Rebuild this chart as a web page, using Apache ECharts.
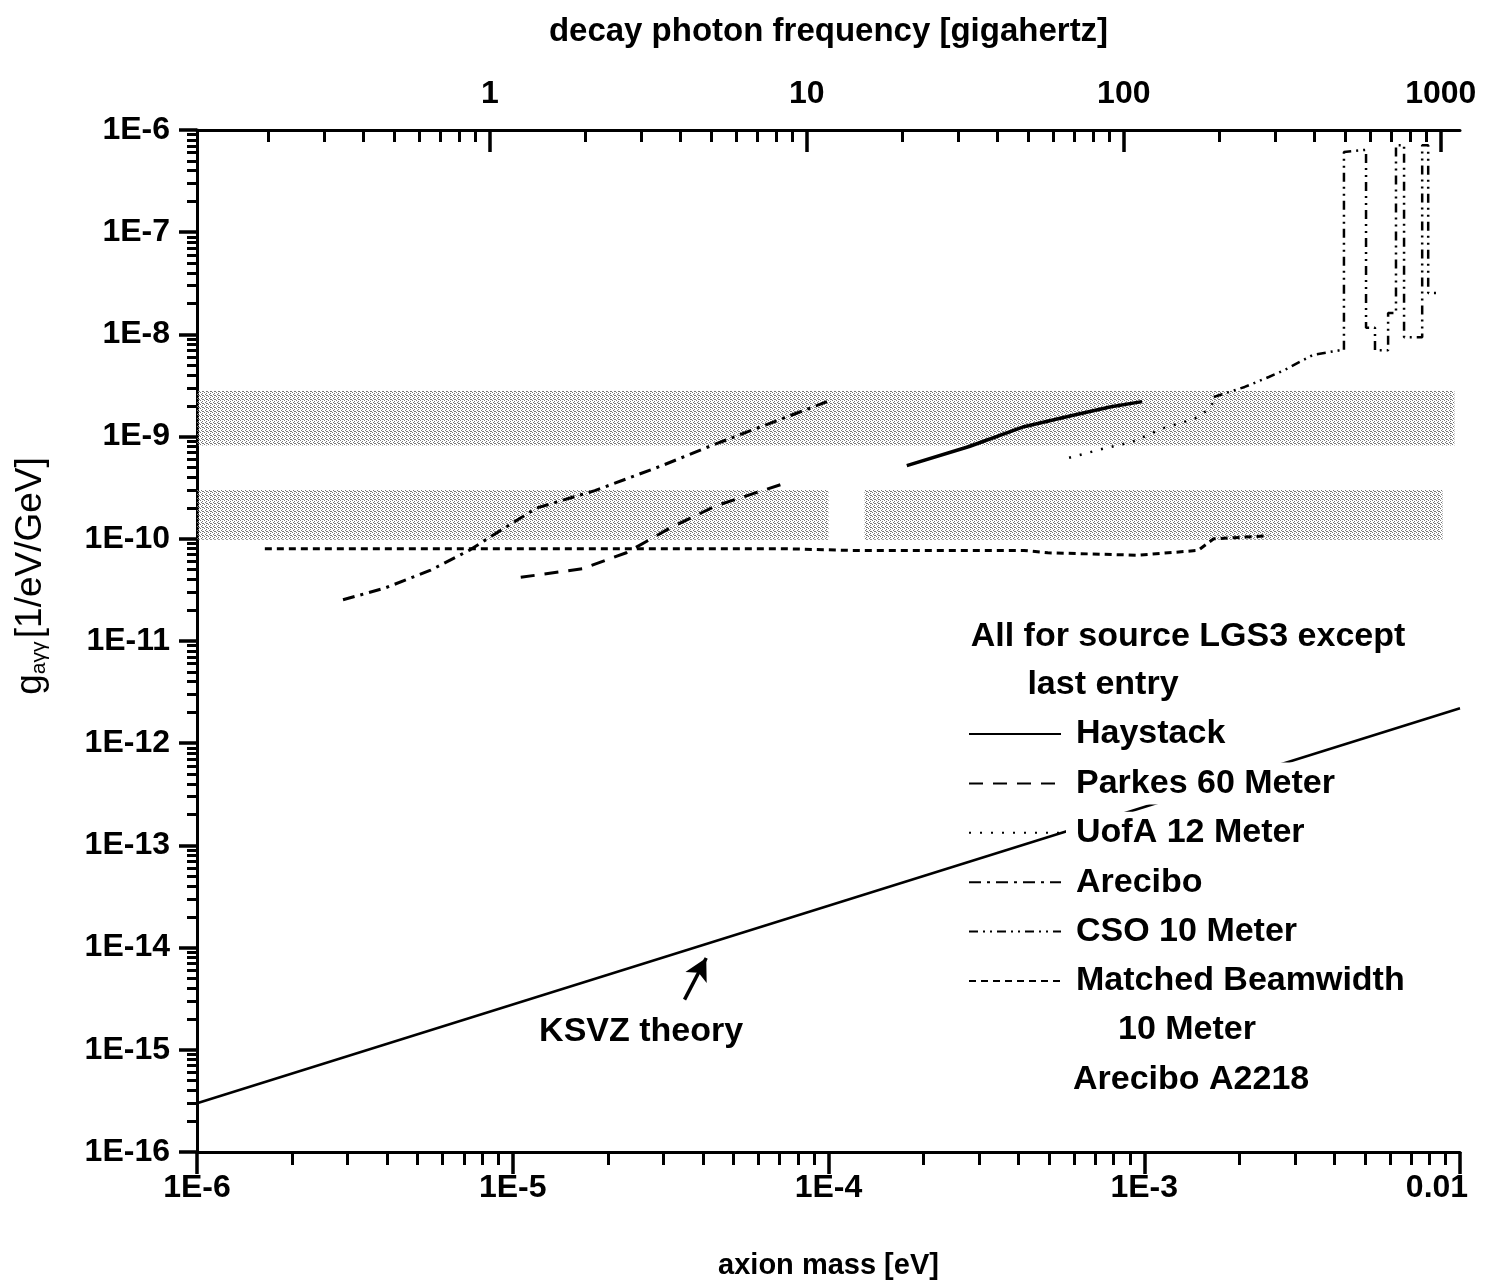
<!DOCTYPE html>
<html>
<head>
<meta charset="utf-8">
<script src="https://cdn.jsdelivr.net/npm/echarts@6/dist/echarts.min.js"></script>
<style>
  html, body { margin: 0; padding: 0; background: #fff; }
  #chart { width: 1487px; height: 1287px; }
</style>
</head>
<body>
<div id="chart"></div>
<script>
  // axion mass [eV] on x, coupling g_aγγ [1/GeV] on y
  const massRange = [1e-6, 1e-2];
  const couplingRange = [1e-16, 1e-6];
  const freqRange = [0.1192, 1150]; // decay photon frequency, GHz (top axis)

  const massTicks = [1e-6, 1e-5, 1e-4, 1e-3, 1e-2];
  const couplingTicks = [1e-16, 1e-15, 1e-14, 1e-13, 1e-12, 1e-11, 1e-10, 1e-9, 1e-8, 1e-7, 1e-6];
  const freqTicks = [1, 10, 100, 1000];

  const ksvz = [[1e-6, 3.0e-16], [1e-2, 2.2e-12]];
  const haystack = [[1.77e-4, 5.2e-10], [2.79e-4, 8.0e-10], [4.16e-4, 1.25e-9], [5.86e-4, 1.6e-9], [7.85e-4, 1.96e-9], [9.84e-4, 2.2e-9]];
  const parkes = [[1.06e-5, 4.2e-11], [1.66e-5, 5.1e-11], [2.29e-5, 7.3e-11], [3.17e-5, 1.29e-10], [4.4e-5, 2.1e-10], [7.2e-5, 3.46e-10]];
  const uofa = [[5.78e-4, 6.2e-10], [7.4e-4, 7.6e-10], [9.2e-4, 8.9e-10], [1.14e-3, 1.2e-9], [1.44e-3, 1.49e-9], [1.58e-3, 1.8e-9], [1.71e-3, 2.44e-9]];
  const arecibo = [[2.9e-6, 2.53e-11], [3.94e-6, 3.3e-11], [5.47e-6, 4.9e-11], [7.33e-6, 7.8e-11], [8.6e-6, 1.07e-10], [1.19e-5, 2.0e-10], [1.82e-5, 2.96e-10], [2.97e-5, 5.2e-10], [4.4e-5, 8.5e-10], [9.9e-5, 2.2e-9]];
  const cso = [
    [1.66e-3, 2.44e-9], [2.08e-3, 3.06e-9], [2.48e-3, 3.83e-9], [2.79e-3, 4.5e-9], [3.42e-3, 6.3e-9],
    [4.17e-3, 7.0e-9], [4.29e-3, 7.0e-9], [4.29e-3, 6.1e-7], [5.04e-3, 6.4e-7], [5.04e-3, 1.16e-8],
    [5.38e-3, 1.16e-8], [5.38e-3, 7.0e-9], [5.92e-3, 7.0e-9], [5.92e-3, 1.62e-8], [6.27e-3, 1.62e-8],
    [6.27e-3, 7.1e-7], [6.65e-3, 7.1e-7], [6.65e-3, 9.4e-9], [7.59e-3, 9.4e-9], [7.59e-3, 7.1e-7],
    [7.93e-3, 7.1e-7], [7.93e-3, 2.54e-8], [8.51e-3, 2.54e-8]
  ];
  const matched = [[1.64e-6, 8.0e-11], [7.2e-5, 8.0e-11], [1.17e-4, 7.7e-11], [4.16e-4, 7.7e-11], [4.95e-4, 7.3e-11], [9.55e-4, 6.9e-11], [1.48e-3, 7.7e-11], [1.66e-3, 1.0e-10], [2.48e-3, 1.07e-10]];

  // shaded (stippled) regions: [mass from, mass to, g low, g high]
  const bands = [
    [1e-6, 9.6e-3, 8.2e-10, 2.8e-9],
    [1e-6, 1.0e-4, 9.8e-11, 3.0e-10],
    [1.3e-4, 8.8e-3, 9.8e-11, 3.0e-10]
  ];

  const ksvzArrow = [[3.5e-5, 3.1e-15], [4.1e-5, 7.9e-15]];
  const ksvzLabelAt = [2.55e-5, 1.5e-15];

  const FONT = '"Liberation Sans", Arial, Helvetica, sans-serif';
  const INK = '#000';
  const LEGEND_SIZE = 34;

  function minorsOf(range) {
    const out = [];
    const lo = Math.floor(Math.log10(range[0]));
    const hi = Math.ceil(Math.log10(range[1]));
    for (let e = lo; e <= hi; e++) {
      for (let k = 2; k <= 9; k++) {
        const v = k * Math.pow(10, e);
        if (v > range[0] && v < range[1]) out.push(v);
      }
    }
    return out;
  }
  const expLabel = (v) => '1E' + Math.round(Math.log10(v));

  // stipple texture for the shaded bands
  const stipple = document.createElement('canvas');
  stipple.width = 4; stipple.height = 4;
  const sctx = stipple.getContext('2d');
  sctx.fillStyle = '#777';
  [[0, 0], [2, 1], [1, 2], [3, 3], [2, 3]].forEach(p => sctx.fillRect(p[0], p[1], 1, 1));

  const chart = echarts.init(document.getElementById('chart'));

  const tickAxis = (extra) => Object.assign({
    type: 'log',
    splitLine: { show: false },
    axisLine: { show: false },
    axisLabel: { show: false },
  }, extra);

  const lineSeries = (name, data, type, width) => ({
    name: name,
    type: 'line',
    data: data,
    symbol: 'none',
    showSymbol: false,
    z: 3,
    color: '#000',
    lineStyle: { color: '#000', width: width || 3, type: type }
  });

  const txt = (text, x, y, align) => ({
    type: 'text', x: x, y: y, z: 10,
    style: { text: text, fontSize: LEGEND_SIZE, fontWeight: 'bold', fontFamily: FONT, fill: INK, align: align, verticalAlign: 'middle' }
  });

  const labelStyle = { fontSize: 32, fontWeight: 'bold', color: INK, fontFamily: FONT };

  chart.setOption({
    animation: false,
    grid: { left: 197, right: 27, top: 130, bottom: 135, outerBoundsMode: 'none', containLabel: false },
    xAxis: [
      {
        type: 'log', position: 'bottom', min: massRange[0], max: massRange[1],
        name: 'axion mass [eV]', nameLocation: 'middle', nameGap: 99,
        nameTextStyle: { fontSize: 29, fontWeight: 'bold', color: INK, fontFamily: FONT },
        axisLine: { lineStyle: { color: '#000', width: 3 } },
        axisTick: { length: 22, lineStyle: { color: '#000', width: 3.5 }, customValues: massTicks },
        axisLabel: Object.assign({
          customValues: massTicks, margin: 20,
          formatter: (v) => (Math.round(Math.log10(v)) === -2 ? '{r|0.01}' : expLabel(v)),
          rich: { r: { fontSize: 32, fontWeight: 'bold', color: INK, fontFamily: FONT, padding: [0, 46, 0, 0] } }
        }, labelStyle),
        splitLine: { show: false }
      },
      tickAxis({
        position: 'bottom', min: massRange[0], max: massRange[1],
        axisTick: { length: 13, lineStyle: { color: '#000', width: 3 }, customValues: minorsOf(massRange) }
      }),
      {
        type: 'log', position: 'top', min: freqRange[0], max: freqRange[1],
        name: 'decay photon frequency [gigahertz]', nameLocation: 'middle', nameGap: 82,
        nameTextStyle: { fontSize: 33, fontWeight: 'bold', color: INK, fontFamily: FONT },
        axisLine: { lineStyle: { color: '#000', width: 3 } },
        axisTick: { inside: true, length: 22, lineStyle: { color: '#000', width: 3.5 }, customValues: freqTicks },
        axisLabel: Object.assign({
          customValues: freqTicks, margin: 20,
          formatter: (v) => String(Math.round(v))
        }, labelStyle),
        splitLine: { show: false }
      },
      tickAxis({
        position: 'top', min: freqRange[0], max: freqRange[1],
        axisTick: { inside: true, length: 12, lineStyle: { color: '#000', width: 3 }, customValues: minorsOf(freqRange) }
      })
    ],
    yAxis: [
      {
        type: 'log', position: 'left', min: couplingRange[0], max: couplingRange[1],
        axisLine: { lineStyle: { color: '#000', width: 3 } },
        axisTick: { length: 18, lineStyle: { color: '#000', width: 3.5 }, customValues: couplingTicks },
        axisLabel: Object.assign({ customValues: couplingTicks, margin: 27, formatter: expLabel }, labelStyle),
        splitLine: { show: false }
      },
      tickAxis({
        position: 'left', min: couplingRange[0], max: couplingRange[1],
        axisTick: { length: 10, lineStyle: { color: '#000', width: 3 }, customValues: minorsOf(couplingRange) }
      })
    ],
    legend: {
      data: ['Haystack', 'Parkes 60 Meter', 'UofA 12 Meter', 'Arecibo', 'CSO 10 Meter', 'Matched Beamwidth 10 Meter'],
      orient: 'vertical', left: 968, top: 713, padding: 0, itemGap: 49.4 - (LEGEND_SIZE + 8),
      itemWidth: 92, itemHeight: 14, selectedMode: false,
      itemStyle: { opacity: 0 },
      formatter: (n) => (n === 'Matched Beamwidth 10 Meter' ? 'Matched Beamwidth' : n),
      textStyle: {
        fontSize: LEGEND_SIZE, fontWeight: 'bold', color: INK, fontFamily: FONT,
        backgroundColor: '#fff', padding: [4, 4, 4, 10]
      }
    },
    graphic: [
      txt('All for source LGS3 except', 1188, 637, 'center'),
      txt('last entry', 1103, 685, 'center'),
      txt('10 Meter', 1187, 1030, 'center'),
      txt('Arecibo A2218', 1073, 1080, 'left'),
      {
        type: 'text', x: 31, y: 576, rotation: Math.PI / 2,
        style: {
          text: '{g|g}{s|aγγ} {g|[1/eV/GeV]}', align: 'center', verticalAlign: 'middle',
          rich: {
            g: { fontSize: 37, fontFamily: FONT, fill: INK },
            s: { fontSize: 21, fontFamily: FONT, fill: INK, padding: [16, 0, 0, 0] }
          }
        }
      }
    ],
    series: [
      {
        name: 'bands', type: 'line', data: [], z: 1, silent: true,
        markArea: {
          silent: true,
          itemStyle: { color: { image: stipple, repeat: 'repeat' } },
          data: bands.map(b => [{ coord: [b[0], b[3]] }, { coord: [b[1], b[2]] }])
        }
      },
      Object.assign(lineSeries('KSVZ theory', ksvz, 'solid', 2.5), {
        markLine: {
          silent: true, symbol: ['none', 'arrow'], symbolSize: [18, 22],
          label: { show: false },
          lineStyle: { color: '#000', width: 3.5, type: 'solid' },
          data: [[{ coord: ksvzArrow[0] }, { coord: ksvzArrow[1] }]]
        },
        markPoint: {
          silent: true, symbol: 'circle', symbolSize: 0,
          label: { show: true, position: 'inside', formatter: 'KSVZ theory', fontSize: LEGEND_SIZE, fontWeight: 'bold', color: INK, fontFamily: FONT },
          data: [{ coord: ksvzLabelAt }]
        }
      }),
      lineSeries('Haystack', haystack, 'solid', 3.5),
      lineSeries('Parkes 60 Meter', parkes, [14, 10], 3),
      lineSeries('UofA 12 Meter', uofa, [2, 9], 2.5),
      lineSeries('Arecibo', arecibo, [12, 6, 3, 6], 3),
      lineSeries('CSO 10 Meter', cso, [9, 5, 2, 5, 2, 5], 2.5),
      lineSeries('Matched Beamwidth 10 Meter', matched, [7, 5], 3)
    ]
  });
</script>
</body>
</html>
